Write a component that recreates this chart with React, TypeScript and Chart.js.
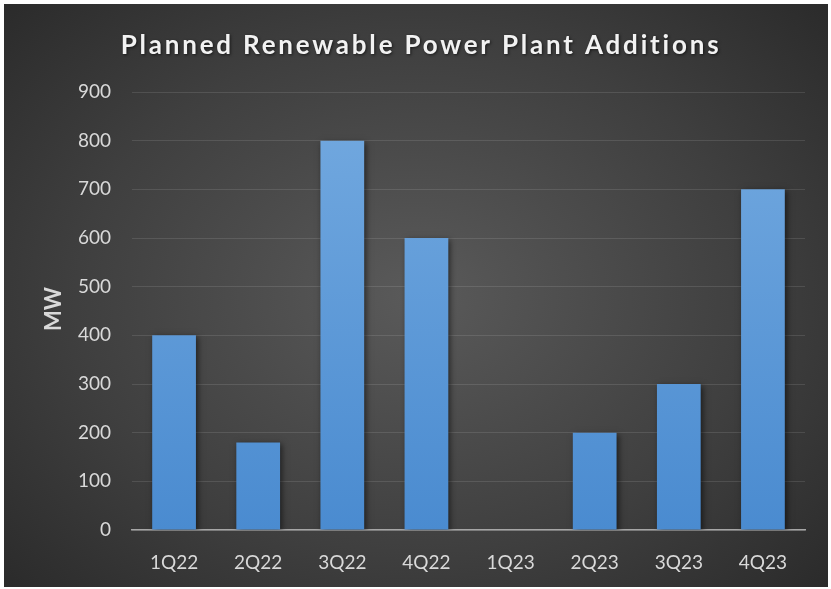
import React, { useEffect, useRef } from "react";
import { Chart, registerables } from "chart.js";

Chart.register(...registerables);

const categories = ["1Q22", "2Q22", "3Q22", "4Q22", "1Q23", "2Q23", "3Q23", "4Q23"];
const values = [400, 180, 800, 600, 0, 200, 300, 700];
const yTicks = [0, 100, 200, 300, 400, 500, 600, 700, 800, 900];
const titleText = "Planned Renewable Power Plant Additions";
const yTitleText = "MW";

const FONT = "Lato, 'Open Sans', sans-serif";

const decorPlugin = {
  id: "decor",
  beforeDatasetsDraw(chart: any) {
    const ctx = chart.ctx;
    ctx.save();
    ctx.shadowColor = "rgba(0,0,0,0.55)";
    ctx.shadowBlur = 6;
    ctx.shadowOffsetX = 2;
    ctx.shadowOffsetY = 2;
  },
  afterDatasetsDraw(chart: any) {
    chart.ctx.restore();
  },
  afterDraw(chart: any) {
    const ctx = chart.ctx;
    const area = chart.chartArea;
    ctx.save();
    // title
    ctx.font = `bold 26px ${FONT}`;
    (ctx as any).letterSpacing = "2.8px";
    ctx.fillStyle = "#f2f2f2";
    ctx.textAlign = "center";
    ctx.textBaseline = "middle";
    ctx.shadowColor = "rgba(0,0,0,0.6)";
    ctx.shadowBlur = 3;
    ctx.shadowOffsetX = 1;
    ctx.shadowOffsetY = 1;
    ctx.fillText(titleText, chart.width / 2 + 5, 42);
    ctx.restore();
    // y title
    ctx.save();
    ctx.font = `bold 22px ${FONT}`;
    ctx.fillStyle = "#d9d9d9";
    ctx.textAlign = "center";
    ctx.textBaseline = "middle";
    ctx.translate(50, (area.top + area.bottom) / 2 - 2);
    ctx.rotate(-Math.PI / 2);
    ctx.fillText(yTitleText, 0, 0);
    ctx.restore();
  },
};

export default function App() {
  const ref = useRef<HTMLCanvasElement | null>(null);
  useEffect(() => {
    const canvas = ref.current;
    if (!canvas) return;
    const chart = new Chart(canvas, {
      type: "bar",
      data: {
        labels: categories,
        datasets: [
          {
            data: values,
            backgroundColor: (c: any) => {
              const ch = c.chart;
              const a = ch.chartArea;
              if (!a) return "#5b9bd5";
              const g = ch.ctx.createLinearGradient(0, a.top, 0, a.bottom);
              g.addColorStop(0, "#74aae0");
              g.addColorStop(1, "#4a8bd0");
              return g;
            },
            borderWidth: 0,
            barPercentage: 0.52,
            categoryPercentage: 1,
          },
        ],
      },
      options: {
        animation: false,
        responsive: false,
        maintainAspectRatio: false,
        layout: { padding: { top: 88, right: 23, bottom: 0, left: 0 } },
        plugins: {
          legend: { display: false },
          title: { display: false },
          tooltip: { enabled: false },
        },
        scales: {
          x: {
            grid: { display: false, drawTicks: false },
            border: { display: true, color: "#a6a6a6", width: 1.5 },
            ticks: {
              color: "#d9d9d9",
              font: { family: FONT, size: 19 },
              padding: 21,
            },
            afterFit: (s: any) => {
              s.height = 57;
            },
          },
          y: {
            min: 0,
            max: 900,
            afterBuildTicks: (s: any) => {
              s.ticks = yTicks.map((v) => ({ value: v }));
            },
            grid: {
              color: "rgba(255,255,255,0.11)",
              lineWidth: 1,
              drawTicks: false,
            },
            border: { display: false },
            ticks: {
              color: "#d9d9d9",
              font: { family: FONT, size: 19 },
              padding: 21,
            },
            afterFit: (s: any) => {
              s.width = 128;
            },
          },
        },
      },
      plugins: [decorPlugin],
    } as any);
    return () => chart.destroy();
  }, []);

  return (
    <div
      style={{
        position: "fixed",
        left: 4,
        top: 4,
        width: 824,
        height: 583,
        background:
          "radial-gradient(ellipse 75% 80% at 50% 50%, #5a5a5a 0%, #3f3f3f 55%, #262626 100%)",
      }}
    >
      <canvas ref={ref} width={824} height={583} style={{ display: "block" }} />
    </div>
  );
}
